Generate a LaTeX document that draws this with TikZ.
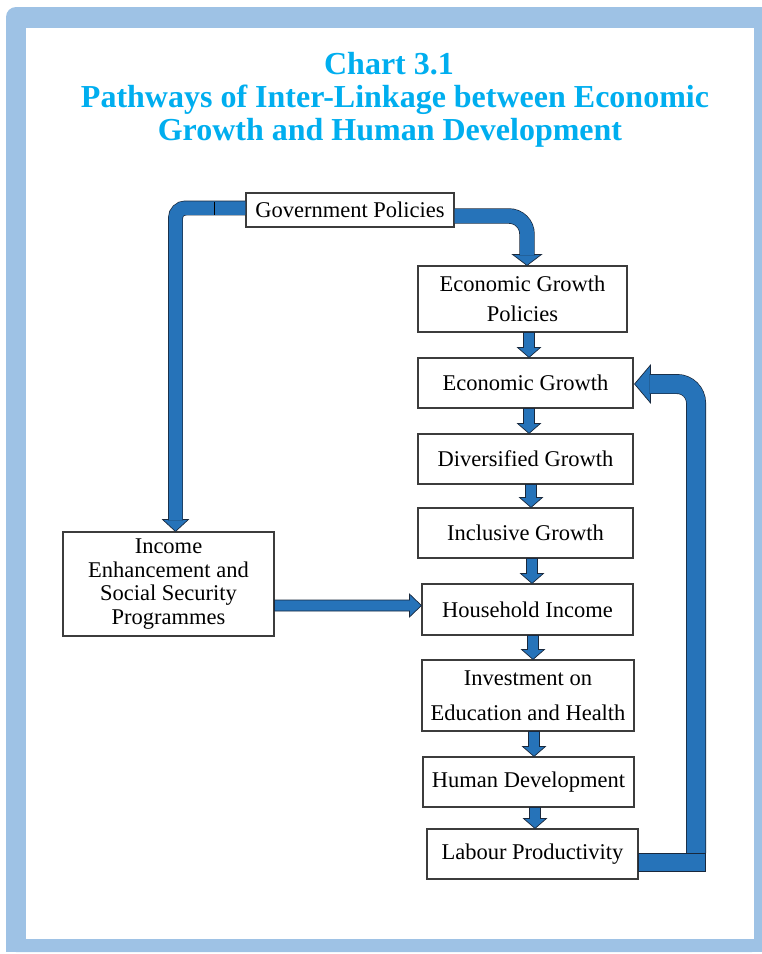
\documentclass[tikz,border=0pt]{standalone}
\usepackage{fontspec}
\setmainfont{Liberation Serif}
\usetikzlibrary{calc}
\definecolor{framefill}{RGB}{158,194,229}
\definecolor{pipeblue}{RGB}{38,115,185}
\definecolor{pipeedge}{RGB}{25,40,60}
\definecolor{titlecyan}{RGB}{0,174,239}
\definecolor{boxline}{RGB}{60,60,60}

% block arrow pointing down from the bottom of #1 to the top of #2, centred at x = #3
\newcommand{\stemdown}[3]{%
  \filldraw[tipshape] let \p1=(#1.south), \p2=(#2.north) in
    (#3pt-5.5pt,\y1) -- (#3pt+5.5pt,\y1) -- (#3pt+5.5pt,\y2+10pt) --
    (#3pt+11.5pt,\y2+10pt) -- (#3pt,\y2) -- (#3pt-11.5pt,\y2+10pt) --
    (#3pt-5.5pt,\y2+10pt) -- cycle;}

\begin{document}
\begin{tikzpicture}[x=1pt,y=-1pt,
  box/.style={draw=boxline, line width=1.1pt, fill=white, inner sep=0pt,
    align=center, font=\fontsize{22.5}{24}\selectfont},
  titletext/.style={text=titlecyan, font=\fontsize{32}{34}\selectfont\bfseries,
    anchor=base, inner sep=0pt},
  tipshape/.style={fill=pipeblue, draw=pipeedge, line width=0.7pt, line join=miter},
  pipeout/.style={draw=pipeedge, line cap=butt},
  pipein/.style={draw=pipeblue, line cap=butt},
  seam/.style={draw=black, line width=1.2pt}
]
\useasboundingbox (0,0) rectangle (762,954);

% frame: only the upper left corner is rounded
\fill[framefill, rounded corners=10pt] (6,7) rectangle (762,952);
\fill[framefill] (300,7) rectangle (762,952);
\fill[framefill] (6,300) rectangle (762,952);
\fill[white] (25.5,27.5) rectangle (754,939);

% title
\node[titletext] (t1) at (389,74) {Chart 3.1};
\node[titletext] (t2) at (395,107) {Pathways of Inter-Linkage between Economic};
\node[titletext] (t3) at (390,140) {Growth and Human Development};

% boxes
\node[box, minimum width=208pt, minimum height=34pt] (gov) at (350,210) {Government Policies};
\node[box, minimum width=209pt, minimum height=66pt, font=\fontsize{22.5}{30}\selectfont] (egp) at (522.5,299) {Economic Growth\\Policies};
\node[box, minimum width=215pt, minimum height=50pt] (eg) at (525.5,383) {Economic Growth};
\node[box, minimum width=215pt, minimum height=50pt] (dg) at (525.5,459) {Diversified Growth};
\node[box, minimum width=215pt, minimum height=50pt] (ig) at (525.5,533) {Inclusive Growth};
\node[box, minimum width=211pt, minimum height=51pt] (hi) at (527.5,609.5) {Household Income};
\node[box, minimum width=212pt, minimum height=71pt, font=\fontsize{22.5}{35}\selectfont] (inv) at (528,695.5) {Investment on\\Education and Health};
\node[box, minimum width=211pt, minimum height=50pt] (hd) at (528.5,782) {Human Development};
\node[box, minimum width=211pt, minimum height=50pt] (lp) at (532.5,854) {Labour Productivity};
\node[box, minimum width=211pt, minimum height=104pt, font=\fontsize{22.5}{23.5}\selectfont] (inc) at (168.5,584) {Income\\Enhancement and\\Social Security\\Programmes};

% short links down the right-hand column
\stemdown{egp}{eg}{529}
\stemdown{eg}{dg}{529}
\stemdown{dg}{ig}{531}
\stemdown{ig}{hi}{532}
\stemdown{hi}{inv}{533}
\stemdown{inv}{hd}{534}
\stemdown{hd}{lp}{535}

% programmes feed household income
\filldraw[tipshape] let \p1=(inc.east), \p2=(hi.west) in
  (\x1,\y2+9.5pt) -- (\x2-12pt,\y2+9.5pt) -- (\x2-12pt,\y2+15.5pt) --
  (\x2,\y2+4pt) -- (\x2-12pt,\y2-7.5pt) -- (\x2-12pt,\y2-1.5pt) --
  (\x1,\y2-1.5pt) -- cycle;

% policies to growth policies
\coordinate (grA) at ($(gov.east)+(0,6)$);
\coordinate (grTip) at ($(egp.north)+(4.5,0)$);
\filldraw[tipshape] ($(grTip)+(-14.5,-11)$) -- ($(grTip)+(14.5,-11)$) -- (grTip) -- cycle;
\draw[pipeout, line width=15.4pt, rounded corners=18pt] (grA) -- (grA -| grTip) -- ($(grTip)+(0,-10)$);
\draw[pipein, line width=14pt, rounded corners=18pt] (grA) -- (grA -| grTip) -- ($(grTip)+(0,-10)$);

% policies to income programmes
\coordinate (glA) at ($(gov.west)+(0,-2)$);
\coordinate (glTip) at ($(inc.north)+(7,0)$);
\filldraw[tipshape] ($(glTip)+(-13,-12)$) -- ($(glTip)+(13,-12)$) -- (glTip) -- cycle;
\draw[pipeout, line width=14.9pt, rounded corners=10pt] (glA) -- (glA -| glTip) -- ($(glTip)+(0,-11)$);
\draw[pipein, line width=13.5pt, rounded corners=10pt] (glA) -- (glA -| glTip) -- ($(glTip)+(0,-11)$);
\draw[seam] ($(glA)+(-31,-6.5)$) -- ($(glA)+(-31,6.5)$);

% productivity back to economic growth
\coordinate (rB) at ($(lp.east)+(0,-1)$);
\coordinate (rC) at ($(lp.east)+(67,17)$);
\coordinate (rTip) at ($(eg.east)+(1,1)$);
\filldraw[tipshape] ($(rTip)+(16,-19)$) -- ($(rTip)+(16,19)$) -- (rTip) -- cycle;
\draw[pipeout, line width=19.9pt, rounded corners=19pt] ($(rB -| rC)+(-9.5,0)$) -- ($(rTip -| rC)+(-9.5,0)$) -- ($(rTip)+(15,0)$);
\draw[pipein, line width=18.5pt, rounded corners=19pt] ($(rB -| rC)+(-9.5,0)$) -- ($(rTip -| rC)+(-9.5,0)$) -- ($(rTip)+(15,0)$);
\filldraw[tipshape] (rB) rectangle (rC);

\end{tikzpicture}
\end{document}
